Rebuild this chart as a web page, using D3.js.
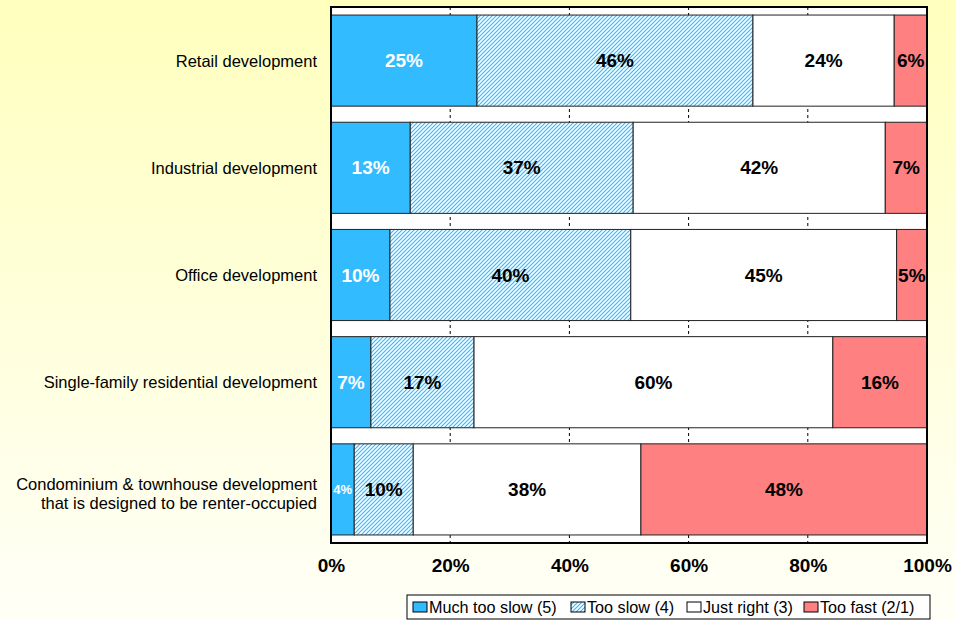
<!DOCTYPE html>
<html>
<head>
<meta charset="utf-8">
<script src="https://cdn.jsdelivr.net/npm/d3@7/dist/d3.min.js"></script>
<style>
html,body{margin:0;padding:0;}
svg{display:block;font-family:"Liberation Sans",Arial,sans-serif;}
</style>
</head>
<body>
<svg id="chart" width="956" height="620"></svg>
<script>
const categories = [
  ["Retail development"],
  ["Industrial development"],
  ["Office development"],
  ["Single-family residential development"],
  ["Condominium & townhouse development", "that is designed to be renter-occupied"]
];
const seriesNames = ["Much too slow (5)", "Too slow (4)", "Just right (3)", "Too fast (2/1)"];
const muchTooSlow = [24.5, 13.3, 9.9, 6.7, 3.9];
const tooSlow     = [46.3, 37.4, 40.4, 17.3, 9.9];
const justRight   = [23.7, 42.3, 44.6, 60.2, 38.2];
const tooFast     = [5.5, 7.0, 5.1, 15.8, 48.0];
const labelsMuch  = ["25%", "13%", "10%", "7%", "4%"];
const labelsSlow  = ["46%", "37%", "40%", "17%", "10%"];
const labelsRight = ["24%", "42%", "45%", "60%", "38%"];
const labelsFast  = ["6%", "7%", "5%", "16%", "48%"];
const xTicks = [0, 20, 40, 60, 80, 100];

const series = [muchTooSlow, tooSlow, justRight, tooFast];
const seriesLabels = [labelsMuch, labelsSlow, labelsRight, labelsFast];
const fills = ["#33BBFF", "url(#hatch)", "#FFFFFF", "#FF8080"];
const textColors = ["#FFFFFF", "#000000", "#000000", "#000000"];

const svg = d3.select("#chart");
const defs = svg.append("defs");
const grad = defs.append("linearGradient").attr("id","bg").attr("x1",0).attr("y1",0).attr("x2",0).attr("y2",1);
grad.append("stop").attr("offset","0%").attr("stop-color","#FFFFBE");
grad.append("stop").attr("offset","100%").attr("stop-color","#FFFFF8");
const pat = defs.append("pattern").attr("id","hatch").attr("patternUnits","userSpaceOnUse")
  .attr("width",4).attr("height",4);
pat.append("rect").attr("width",4).attr("height",4).attr("fill","#FFFFFF");
pat.append("path").attr("d","M-1,1 l2,-2 M0,4 l4,-4 M3,5 l2,-2")
  .attr("stroke","#33BBFF").attr("stroke-width",1.2);

svg.append("rect").attr("width",956).attr("height",620).attr("fill","url(#bg)");

const pLeft = 331, pRight = 927, pTop = 7, pBottom = 543;
const x = d3.scaleLinear().domain([0,100]).range([pLeft,pRight]);
const y = d3.scaleBand().domain(d3.range(categories.length)).range([pTop,pBottom])
  .paddingInner(0.15).paddingOuter(0.075);

// plot area
svg.append("rect").attr("x",pLeft).attr("y",pTop).attr("width",pRight-pLeft).attr("height",pBottom-pTop)
  .attr("fill","#FFFFFF");

// gridlines
svg.append("g").selectAll("line").data(xTicks.filter(t=>t>0&&t<100)).join("line")
  .attr("x1",d=>x(d)).attr("x2",d=>x(d)).attr("y1",pTop).attr("y2",pBottom)
  .attr("stroke","#000").attr("stroke-width",1).attr("stroke-dasharray","3,3");

// bars
const gBars = svg.append("g");
categories.forEach((c,i)=>{
  let cum = 0;
  series.forEach((s,k)=>{
    const v = s[i];
    const x0 = x(cum), x1 = x(cum+v);
    gBars.append("rect").attr("x",x0).attr("y",y(i)).attr("width",x1-x0).attr("height",y.bandwidth())
      .attr("fill",fills[k]).attr("stroke","#222").attr("stroke-width",1);
    const small = (x1-x0) < 28;
    gBars.append("text").attr("x",(x0+x1)/2).attr("y",y(i)+y.bandwidth()/2)
      .attr("text-anchor","middle").attr("dominant-baseline","central")
      .attr("font-weight","bold").attr("font-size", small && k===0 ? 13 : 19)
      .attr("fill",textColors[k]).text(seriesLabels[k][i]);
    cum += v;
  });
});

// plot border
svg.append("rect").attr("x",pLeft).attr("y",pTop).attr("width",pRight-pLeft).attr("height",pBottom-pTop)
  .attr("fill","none").attr("stroke","#000").attr("stroke-width",2);

// y labels
const gy = svg.append("g");
categories.forEach((lines,i)=>{
  const cy = y(i)+y.bandwidth()/2 + (lines.length>1 ? 4 : 0);
  const lh = 19;
  lines.forEach((t,j)=>{
    gy.append("text").attr("x",317).attr("y",cy + (j-(lines.length-1)/2)*lh)
      .attr("text-anchor","end").attr("dominant-baseline","central")
      .attr("font-size",16.5).attr("fill","#000").text(t);
  });
});

// x axis labels
const xAxis = d3.axisBottom(x).tickValues(xTicks).tickFormat(d=>d+"%").tickSize(0).tickPadding(0);
const gx = svg.append("g").attr("transform",`translate(0,${pBottom+15})`).call(xAxis);
gx.select(".domain").remove();
gx.selectAll("text").attr("font-size",19).attr("font-weight","bold").attr("fill","#000")
  .attr("font-family","Liberation Sans, Arial, sans-serif");

// legend
const lg = svg.append("g");
lg.append("rect").attr("x",407).attr("y",595).attr("width",523).attr("height",24)
  .attr("fill","#FFFFFF").attr("stroke","#000").attr("stroke-width",1);
const itemX = [413, 571, 687, 804];
seriesNames.forEach((n,k)=>{
  lg.append("rect").attr("x",itemX[k]).attr("y",602).attr("width",14).attr("height",10)
    .attr("fill",fills[k]).attr("stroke","#000").attr("stroke-width",1);
  lg.append("text").attr("x",itemX[k]+16).attr("y",607).attr("dominant-baseline","central")
    .attr("font-size",16.2).attr("fill","#000").text(n);
});
</script>
</body>
</html>
